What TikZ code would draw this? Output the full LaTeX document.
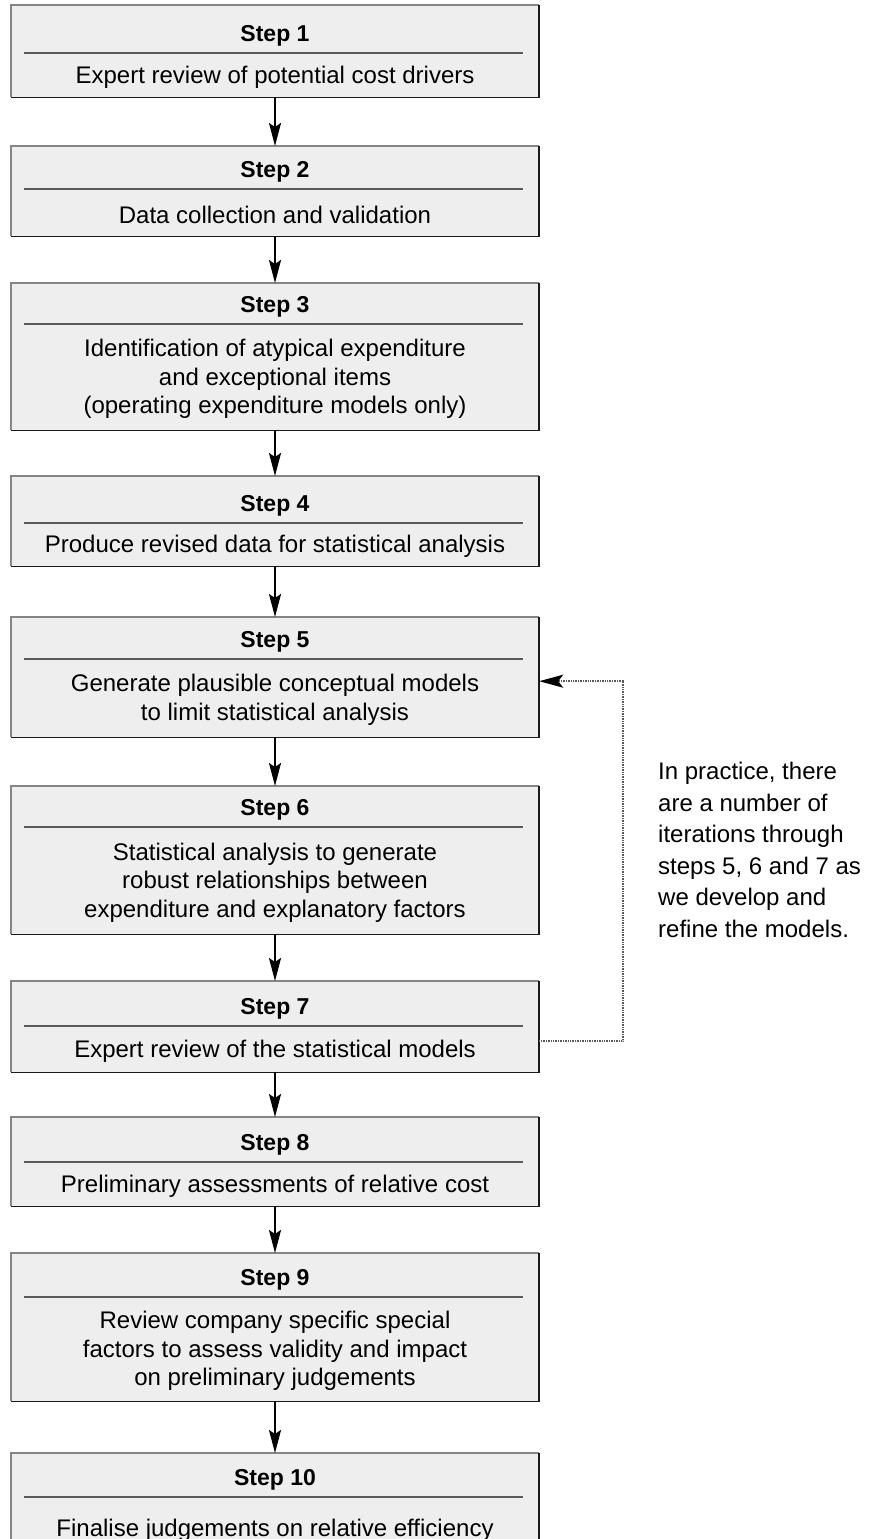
\documentclass[tikz,border=0pt]{standalone}
\usepackage{fontspec}
\setmainfont{Liberation Sans}
\usetikzlibrary{arrows.meta}
\definecolor{boxfill}{HTML}{EEEEEE}
\definecolor{edgelight}{HTML}{858585}
\definecolor{edgedark}{HTML}{1A1A1A}
\definecolor{sepcol}{HTML}{5A5A5A}
\definecolor{loopcol}{HTML}{5A5A5A}
\tikzset{
  boxshape/.style={rectangle, inner sep=0pt, minimum width=528pt, fill=boxfill, draw=none},
  titletext/.style={inner sep=0pt, font={\fontsize{23}{27}\selectfont\bfseries}},
  bodytext/.style={inner sep=0pt, align=center, font={\fontsize{24}{28.5}\selectfont}},
  notetext/.style={inner sep=0pt, align=left, font={\fontsize{24}{31.5}\selectfont}},
  flowarrow/.style={line width=2pt, black, -{Stealth[length=23pt, width=12pt, inset=4pt]}},
  looparrow/.style={line width=1.5pt, loopcol, dash pattern=on 1pt off 0.7pt,
    -{Stealth[length=24pt, width=13pt, inset=5pt, black, sep=0pt]}},
  lightedge/.style={edgelight, line width=1.6pt},
  darkedge/.style={edgedark, line width=1.6pt},
  sepline/.style={sepcol, line width=1.4pt}
}
% #1 name, #2 top, #3 separator, #4 bottom, #5 title, #6 body
\newcommand\stepbox[6]{%
  \node[boxshape, minimum height={#4pt-#2pt}, anchor=north] (#1) at (275,-#2) {};
  \draw[lightedge] (#1.south west) |- (#1.north east);
  \draw[darkedge] (#1.north east) |- (#1.south west);
  \draw[sepline] (24,-#3) -- (523,-#3);
  \node[titletext, anchor=base] (#1t) at (275,{-(#3-12)}) {#5};
  \node[bodytext, anchor=center] (#1d) at (275,{-(#3+#4)/2-2}) {#6};
}
\begin{document}
\begin{tikzpicture}[x=1pt, y=1pt]
\useasboundingbox (0,0) rectangle (869,-1539);
\clip (0,0) rectangle (869,-1539);

\stepbox{b1}{5}{53}{97}{Step 1}{Expert review of potential cost drivers}
\stepbox{b2}{146}{189}{236}{Step 2}{Data collection and validation}
\stepbox{b3}{283}{324}{430}{Step 3}{Identification of atypical expenditure\\and exceptional items\\(operating expenditure models only)}
\stepbox{b4}{476}{523}{566}{Step 4}{Produce revised data for statistical analysis}
\stepbox{b5}{617}{659}{737}{Step 5}{Generate plausible conceptual models\\to limit statistical analysis}
\stepbox{b6}{786}{827}{934}{Step 6}{Statistical analysis to generate\\robust relationships between\\expenditure and explanatory factors}
\stepbox{b7}{981}{1026}{1072}{Step 7}{Expert review of the statistical models}
\stepbox{b8}{1117}{1162}{1206}{Step 8}{Preliminary assessments of relative cost}
\stepbox{b9}{1253}{1297}{1401}{Step 9}{Review company specific special\\factors to assess validity and impact\\on preliminary judgements}
\stepbox{b10}{1453}{1497}{1560}{Step 10}{Finalise judgements on relative efficiency}

\draw[flowarrow] (b1.south) -- (b2.north);
\draw[flowarrow] (b2.south) -- (b3.north);
\draw[flowarrow] (b3.south) -- (b4.north);
\draw[flowarrow] (b4.south) -- (b5.north);
\draw[flowarrow] (b5.south) -- (b6.north);
\draw[flowarrow] (b6.south) -- (b7.north);
\draw[flowarrow] (b7.south) -- (b8.north);
\draw[flowarrow] (b8.south) -- (b9.north);
\draw[flowarrow] (b9.south) -- (b10.north);

\coordinate (loopx) at (623,-860);
\draw[looparrow] ([yshift=-14.5pt]b7.east) -| (loopx) |- ([yshift=-4pt]b5.east);

\node[notetext, anchor=north west] (note) at (658,-762)
  {In practice, there\\are a number of\\iterations through\\steps 5, 6 and 7 as\\we develop and\\refine the models.};
\end{tikzpicture}
\end{document}
